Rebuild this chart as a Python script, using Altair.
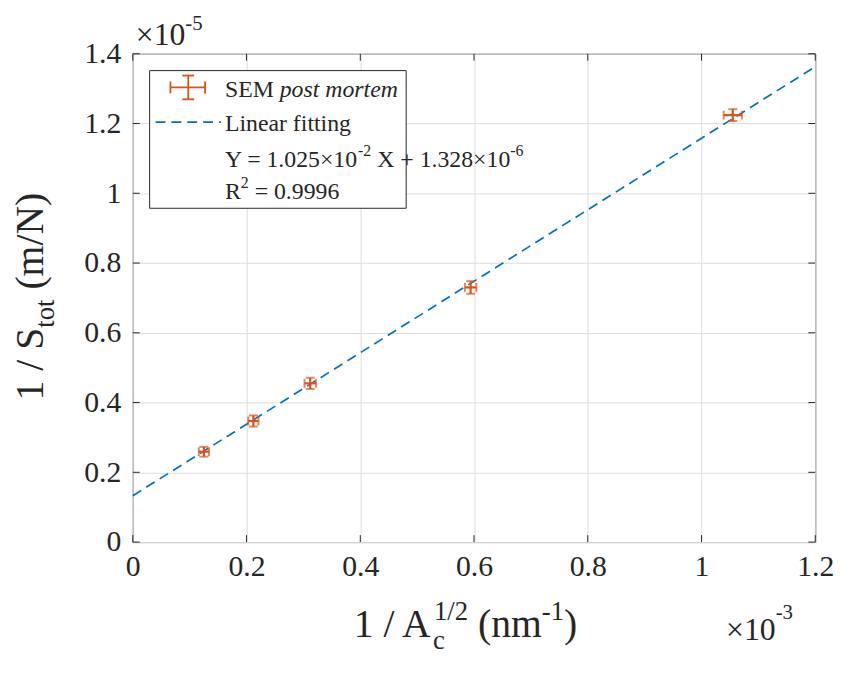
import altair as alt
import pandas as pd

# ---- data (x in 1e-3 nm^-1, y in 1e-5 m/N) ----
x_vals = [0.125, 0.212, 0.312, 0.594, 1.055]
y_vals = [0.259, 0.347, 0.455, 0.730, 1.224]
x_err = [0.009, 0.009, 0.010, 0.010, 0.016]
y_err = [0.014, 0.016, 0.016, 0.018, 0.017]
fit_x = [0.0, 1.2]
fit_y = [0.1328, 1.3628]
x_ticks = [0, 0.2, 0.4, 0.6, 0.8, 1.0, 1.2]
y_ticks = [0, 0.2, 0.4, 0.6, 0.8, 1.0, 1.2, 1.4]

W, H = 689, 493
FONT = "Liberation Serif"
TXT = "#262626"
ORANGE = "#D95319"
BLUE = "#0072BD"

WID = {' ': 250, '.': 250, '/': 278, '=': 564, '+': 564, '×': 564, '-': 333,
       '(': 333, ')': 333, 'A': 722, 'N': 722, 'S': 556, 'E': 611, 'M': 889,
       'X': 722, 'Y': 722, 'R': 667, 'c': 444, 'm': 778, 'o': 500, 't': 278}


def tw(s, fs):
    return sum(WID.get(ch, 500) for ch in s) * fs / 1000.0


def txt(s, x, y, fs, angle=0, italic=False):
    kw = dict(align="left", baseline="alphabetic", font=FONT, fontSize=fs,
              color=TXT)
    if angle:
        kw["angle"] = angle
    if italic:
        kw["fontStyle"] = "italic"
    return alt.Chart(pd.DataFrame({"t": [s]})).mark_text(**kw).encode(
        x=alt.value(x), y=alt.value(y), text="t:N")


xs = alt.Scale(domain=[0, 1.2], nice=False, zero=False)
ys = alt.Scale(domain=[0, 1.4], nice=False, zero=False)
xax = alt.Axis(values=x_ticks, format="~g", grid=True, ticks=False, domain=False,
               labelFontSize=30, labelFont=FONT, labelColor=TXT, labelPadding=10,
               gridColor="#dcdcdc", gridWidth=1, title=None, labelFlush=False)
yax = alt.Axis(values=y_ticks, format="~g", grid=True, ticks=False, domain=False,
               labelFontSize=30, labelFont=FONT, labelColor=TXT, labelPadding=12,
               gridColor="#dcdcdc", gridWidth=1, title=None, labelFlush=False)

pts = pd.DataFrame({"x": x_vals, "y": y_vals, "xe": x_err, "ye": y_err})
pts["xlo"] = pts.x - pts.xe
pts["xhi"] = pts.x + pts.xe
pts["ylo"] = pts.y - pts.ye
pts["yhi"] = pts.y + pts.ye

fit = pd.DataFrame({"x": fit_x, "y": fit_y})

axes_layer = alt.Chart(fit).mark_line(opacity=0).encode(
    x=alt.X("x:Q", scale=xs, axis=xax), y=alt.Y("y:Q", scale=ys, axis=yax))

xt = pd.DataFrame({"x": x_ticks})
yt = pd.DataFrame({"y": y_ticks})
tick_kw = dict(color=TXT, strokeWidth=1)
xt_bot = alt.Chart(xt).mark_rule(**tick_kw).encode(
    x=alt.X("x:Q", scale=xs, axis=xax), y=alt.value(H), y2=alt.value(H - 7))
xt_top = alt.Chart(xt).mark_rule(**tick_kw).encode(
    x=alt.X("x:Q", scale=xs, axis=xax), y=alt.value(0), y2=alt.value(7))
yt_l = alt.Chart(yt).mark_rule(**tick_kw).encode(
    y=alt.Y("y:Q", scale=ys, axis=yax), x=alt.value(0), x2=alt.value(7))
yt_r = alt.Chart(yt).mark_rule(**tick_kw).encode(
    y=alt.Y("y:Q", scale=ys, axis=yax), x=alt.value(W - 7), x2=alt.value(W))

fit_line = alt.Chart(fit).mark_line(color=BLUE, strokeWidth=1.7,
                                    strokeDash=[10, 6]).encode(
    x=alt.X("x:Q", scale=xs, axis=xax), y=alt.Y("y:Q", scale=ys, axis=yax))

eb = alt.Chart(pts)
e_kw = dict(color=ORANGE, strokeWidth=2.2)
xbar = eb.mark_rule(**e_kw).encode(
    x=alt.X("xlo:Q", scale=xs, axis=xax), x2="xhi:Q",
    y=alt.Y("y:Q", scale=ys, axis=yax))
ybar = eb.mark_rule(**e_kw).encode(
    y=alt.Y("ylo:Q", scale=ys, axis=yax), y2="yhi:Q",
    x=alt.X("x:Q", scale=xs, axis=xax))
cap_kw = dict(color=ORANGE, thickness=2, size=9)
cap_xl = eb.mark_tick(orient="vertical", **cap_kw).encode(
    x=alt.X("xlo:Q", scale=xs, axis=xax), y=alt.Y("y:Q", scale=ys, axis=yax))
cap_xh = eb.mark_tick(orient="vertical", **cap_kw).encode(
    x=alt.X("xhi:Q", scale=xs, axis=xax), y=alt.Y("y:Q", scale=ys, axis=yax))
cap_yl = eb.mark_tick(orient="horizontal", **cap_kw).encode(
    x=alt.X("x:Q", scale=xs, axis=xax), y=alt.Y("ylo:Q", scale=ys, axis=yax))
cap_yh = eb.mark_tick(orient="horizontal", **cap_kw).encode(
    x=alt.X("x:Q", scale=xs, axis=xax), y=alt.Y("yhi:Q", scale=ys, axis=yax))

# legend box
one = pd.DataFrame({"a": [0]})
leg_box = alt.Chart(one).mark_rect(fill="white", stroke=TXT, strokeWidth=1).encode(
    x=alt.value(17), x2=alt.value(276), y=alt.value(17), y2=alt.value(156))
lk = dict(color=ORANGE, strokeWidth=1.8)
leg_eb = [
    alt.Chart(one).mark_rule(**lk).encode(x=alt.value(38), x2=alt.value(73), y=alt.value(34)),
    alt.Chart(one).mark_rule(**lk).encode(y=alt.value(22), y2=alt.value(46), x=alt.value(56)),
    alt.Chart(one).mark_rule(**lk).encode(y=alt.value(28), y2=alt.value(40), x=alt.value(38)),
    alt.Chart(one).mark_rule(**lk).encode(y=alt.value(28), y2=alt.value(40), x=alt.value(73)),
    alt.Chart(one).mark_rule(**lk).encode(x=alt.value(50), x2=alt.value(62), y=alt.value(22)),
    alt.Chart(one).mark_rule(**lk).encode(x=alt.value(50), x2=alt.value(62), y=alt.value(46)),
]
leg_line = alt.Chart(one).mark_rule(color=BLUE, strokeWidth=1.7, strokeDash=[10, 6]).encode(
    x=alt.value(23), x2=alt.value(89), y=alt.value(69))

SP = lambda fs: 250 * fs / 1000.0

texts = []
LF, LS = 24, 16
lx = 93
texts.append(txt("SEM", lx, 44, LF))
texts.append(txt("post mortem", lx + tw("SEM", LF) + SP(LF), 44, LF, italic=True))
texts.append(txt("Linear fitting", lx, 78, LF))
cx = lx
texts.append(txt("Y = 1.025×10", cx, 114, LF)); cx += tw("Y = 1.025×10", LF)
texts.append(txt("-2", cx, 103, LS)); cx += tw("-2", LS) + SP(LF)
texts.append(txt("X + 1.328×10", cx, 114, LF)); cx += tw("X + 1.328×10", LF)
texts.append(txt("-6", cx, 103, LS))
cx = lx
texts.append(txt("R", cx, 147, LF)); cx += tw("R", LF)
texts.append(txt("2", cx, 136, LS)); cx += tw("2", LS) + SP(LF)
texts.append(txt("= 0.9996", cx, 147, LF))

# exponent labels
EF, ES = 32, 21
texts.append(txt("×10", 3, -9, EF))
texts.append(txt("-5", 3 + tw("×10", EF), -24, ES))
texts.append(txt("×10", 599, 592, EF))
texts.append(txt("-3", 599 + tw("×10", EF), 571, ES))

# x title
TF, TS = 40, 27
bx, by = 223, 589
p1 = "1 / A"
texts.append(txt(p1, bx, by, TF))
c0 = bx + tw(p1, TF)
texts.append(txt("c", c0, by + 12, TS))
texts.append(txt("1/2", c0 + 1, by - 17, TS))
c1 = c0 + max(tw("c", TS), tw("1/2", TS)) + 1 + SP(TF)
texts.append(txt("(nm", c1, by, TF))
c2 = c1 + tw("(nm", TF)
texts.append(txt("-1", c2, by - 17, TS))
texts.append(txt(")", c2 + tw("-1", TS), by, TF))

# y title (rotated)
yx, yy = -91, 350
q1 = "1 / S"
texts.append(txt(q1, yx, yy, TF, angle=270))
d0 = yy - tw(q1, TF)
texts.append(txt("tot", yx + 11, d0, TS, angle=270))
d1 = d0 - tw("tot", TS) - SP(TF)
texts.append(txt("(m/N)", yx, d1, TF, angle=270))

chart = alt.layer(
    axes_layer, xt_bot, xt_top, yt_l, yt_r, fit_line,
    xbar, ybar, cap_xl, cap_xh, cap_yl, cap_yh,
    leg_box, *leg_eb, leg_line, *texts
).properties(
    width=W, height=H,
    autosize=alt.AutoSizeParams(type="none"),
    padding={"left": 126, "top": 43, "right": 26, "bottom": 130},
    background="white",
).configure_view(stroke=TXT, strokeWidth=1)

chart.save("out.html", embed_options={"renderer": "svg", "actions": False})
